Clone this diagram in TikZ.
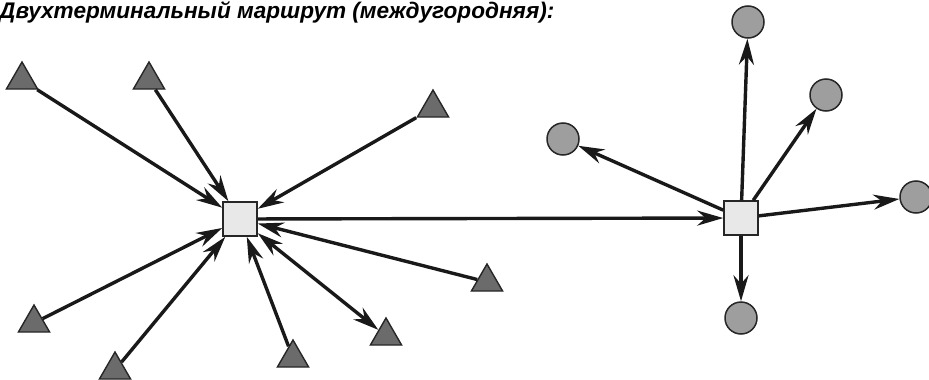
\documentclass[tikz,border=0pt]{standalone}
\usepackage{fontspec}
\setmainfont{Liberation Sans}
\usetikzlibrary{arrows.meta, shapes.geometric}

\begin{document}
\begin{tikzpicture}[
    x=1pt, y=-1pt,
    >={Stealth[length=26pt, width=15pt]},
    every node/.style={inner sep=0pt},
    hub/.style={rectangle, draw=black!85, fill=black!9, line width=1.5pt, minimum size=34pt},
    term/.style={regular polygon, regular polygon sides=3, draw=black!85, fill=black!58, line width=1.4pt, minimum size=36pt},
    dest/.style={circle, draw=black!85, fill=black!38, line width=1.5pt, minimum size=32pt},
    link/.style={->, line width=3.4pt, black!90}
]
\useasboundingbox (0,0) rectangle (929,380);
\clip (0,0) rectangle (929,380);

% Heading
\node[anchor=base west, font=\fontsize{22.6}{27}\selectfont\bfseries\itshape] (title) at (-1,18)
    {Двухтерминальный маршрут (междугородняя):};

% Switching nodes
\node[hub] (hubA) at (240,219) {};
\node[hub] (hubB) at (741,218) {};

% Terminals on the originating side
\node[term] (t1) at (22,80) {};
\node[term] (t2) at (149,80) {};
\node[term] (t3) at (433,108) {};
\node[term] (t4) at (487,282) {};
\node[term] (t5) at (386,336) {};
\node[term] (t6) at (293,358) {};
\node[term] (t7) at (115,370) {};
\node[term] (t8) at (34,323) {};

% Terminals on the far side
\node[dest] (c1) at (748,22) {};
\node[dest] (c2) at (826,95) {};
\node[dest] (c3) at (563,139) {};
\node[dest] (c4) at (916,197) {};
\node[dest] (c5) at (741,318) {};

% Arrows
\draw[link] (t1) -- (hubA);
\draw[link] (t2) -- (hubA);
\draw[link] (t3) -- (hubA);
\draw[link] (t4) -- (hubA);
\draw[link, <->] (t5) -- (hubA);
\draw[link] (t6) -- (hubA);
\draw[link] (t7) -- (hubA);
\draw[link] (t8) -- (hubA);

\draw[link] (hubA) -- (hubB);

\draw[link] (hubB) -- (c1);
\draw[link] (hubB) -- (c2);
\draw[link] (hubB) -- (c3);
\draw[link] (hubB) -- (c4);
\draw[link] (hubB) -- (c5);

\end{tikzpicture}
\end{document}
